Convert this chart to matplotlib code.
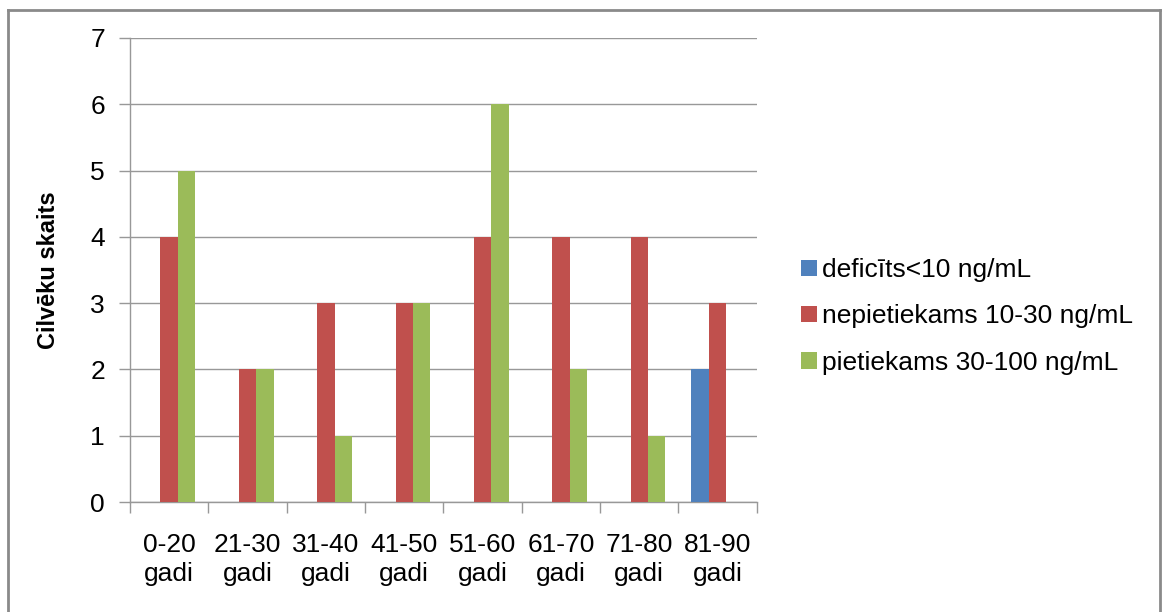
import numpy as np
import matplotlib.pyplot as plt
from matplotlib.lines import Line2D

plt.rcParams['font.family'] = ['Liberation Sans', 'DejaVu Sans']

# age groups and counts per vitamin D level
groups = ["0-20\ngadi", "21-30\ngadi", "31-40\ngadi", "41-50\ngadi",
          "51-60\ngadi", "61-70\ngadi", "71-80\ngadi", "81-90\ngadi"]
deficits = [0, 0, 0, 0, 0, 0, 0, 2]
nepietiekams = [4, 2, 3, 3, 4, 4, 4, 3]
pietiekams = [5, 2, 1, 3, 6, 2, 1, 0]

series = [
    ("deficīts<10 ng/mL", deficits, "#4F81BD"),
    ("nepietiekams 10-30 ng/mL", nepietiekams, "#C0504D"),
    ("pietiekams 30-100 ng/mL", pietiekams, "#9BBB59"),
]

fig = plt.figure(figsize=(11.66, 6.12), dpi=100)
ax = fig.add_axes([0.1115, 0.1797, 0.5375, 0.7583])

x = np.arange(len(groups))
w = 0.222
for i, (name, vals, col) in enumerate(series):
    ax.bar(x + (i - 1) * w, vals, width=w, color=col, label=name, zorder=3)

ax.set_xlim(-0.5, len(groups) - 0.5)
ax.set_ylim(0, 7)
ax.set_yticks(range(0, 8))
ax.yaxis.grid(True, color="#989898", linewidth=1.0, zorder=0)
ax.set_axisbelow(True)

ax.set_xticks(x)
ax.set_xticklabels(groups, fontsize=19, linespacing=1.3)
ax.set_xticks(np.arange(-0.5, len(groups)), minor=True)
ax.tick_params(axis="x", which="major", length=0, pad=22)
ax.tick_params(axis="x", which="minor", length=8, color="#989898", width=1)
ax.tick_params(axis="y", length=8, color="#989898", width=1, labelsize=19, pad=10)

for s in ["top", "right"]:
    ax.spines[s].set_visible(False)
for s in ["left", "bottom"]:
    ax.spines[s].set_color("#989898")
    ax.spines[s].set_linewidth(1)

ax.set_ylabel("Cilvēku skaits", fontsize=17, fontweight="bold", labelpad=22)

leg = fig.legend(loc="center left", bbox_to_anchor=(0.667, 0.483), frameon=False,
                 fontsize=19, handlelength=0.57, handleheight=0.57,
                 handletextpad=0.2, labelspacing=0.85)

# chart border
border = dict(color="#8a8a8a", linewidth=2, transform=fig.transFigure)
top_y = 1 - 10 / 612
left_x = 8 / 1166
right_x = 1160 / 1166
fig.add_artist(Line2D([left_x, right_x], [top_y, top_y], **border))
fig.add_artist(Line2D([left_x, left_x], [0, top_y], **border))
fig.add_artist(Line2D([right_x, right_x], [0, top_y], **border))

plt.savefig("out.png", dpi=100)
